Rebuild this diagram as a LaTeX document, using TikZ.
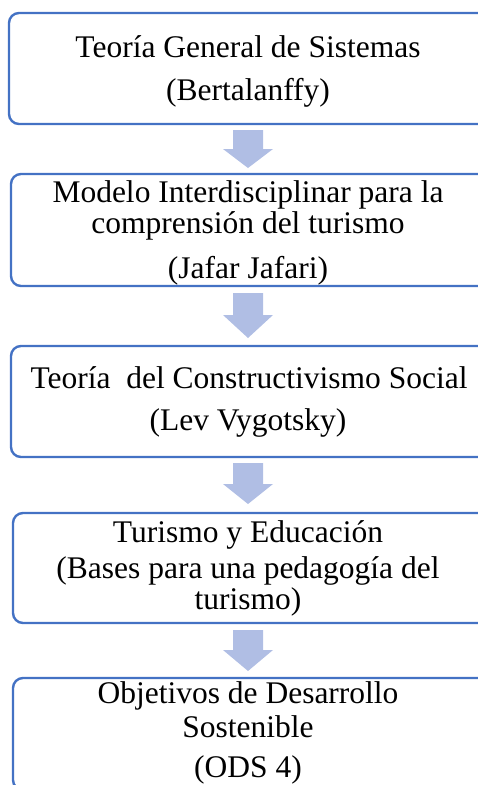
\documentclass[tikz,border=0pt]{standalone}
\usepackage{fontspec}
\setmainfont{Liberation Serif}
\definecolor{boxblue}{HTML}{4472C4}
\definecolor{arrowblue}{HTML}{B0BEE4}
\tikzset{
  box/.style={draw=boxblue, line width=2.4pt, rounded corners=10pt, fill=white, inner sep=0pt},
  txt/.style={anchor=base, inner sep=0pt, font=\fontsize{31.5}{38}\selectfont},
}
\newcommand{\blockarrow}[3]{%
  \fill[arrowblue] (233,#1) -- (263,#1) -- (263,#2) -- (273,#2) -- (248,#3) -- (223,#2) -- (233,#2) -- cycle;}
\begin{document}
\begin{tikzpicture}[x=1pt,y=-1pt]
\useasboundingbox (0,0) rectangle (478,785);
\clip (0,0) rectangle (478,785);
% boxes
\node[box, minimum width=481pt, minimum height=111pt] (b1) at (249.5,68.5) {};
\node[box, minimum width=479pt, minimum height=112pt] (b2) at (250.5,230) {};
\node[box, minimum width=479pt, minimum height=111pt] (b3) at (250.5,401.5) {};
\node[box, minimum width=477pt, minimum height=110pt] (b4) at (251.5,568) {};
\node[box, minimum width=477pt, minimum height=112pt] (b5) at (251.5,734) {};
% arrows
\blockarrow{130}{149}{168}
\blockarrow{293}{315}{338}
\blockarrow{463}{484}{504}
\blockarrow{630}{650}{671}
% texts
\node[txt] (t1a) at (248,57) {Teoría General de Sistemas};
\node[txt] (t1b) at (248,100) {(Bertalanffy)};
\node[txt] (t2a) at (248,202) {Modelo Interdisciplinar para la};
\node[txt] (t2b) at (248,233) {comprensión del turismo};
\node[txt] (t2c) at (248,278) {(Jafar Jafari)};
\node[txt] (t3a) at (249,388) {Teoría\ \ del Constructivismo Social};
\node[txt] (t3b) at (248,430) {(Lev Vygotsky)};
\node[txt] (t4a) at (248,542) {Turismo y Educación};
\node[txt] (t4b) at (248,578) {(Bases para una pedagogía del};
\node[txt] (t4c) at (248,609) {turismo)};
\node[txt] (t5a) at (248,703) {Objetivos de Desarrollo};
\node[txt] (t5b) at (248,737) {Sostenible};
\node[txt] (t5c) at (248,777) {(ODS 4)};
\end{tikzpicture}
\end{document}
